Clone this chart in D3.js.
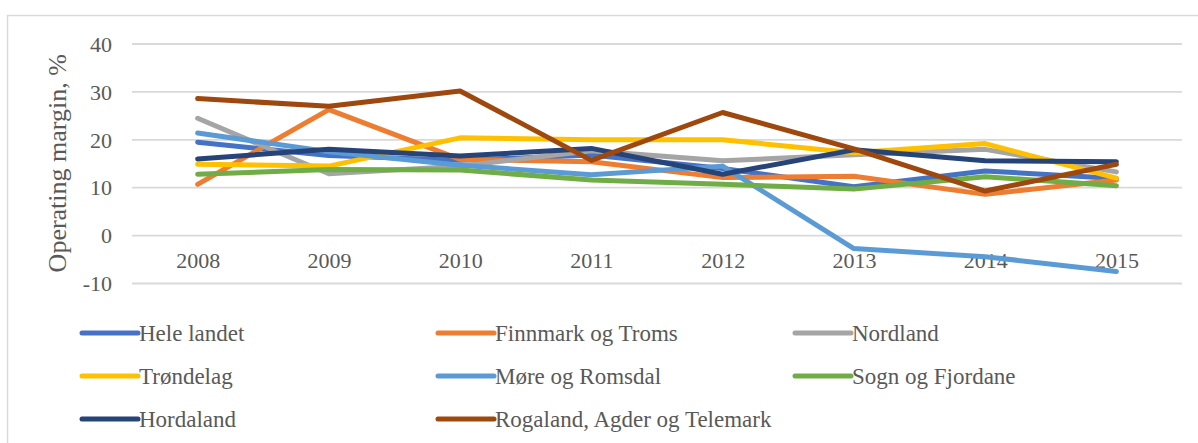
<!DOCTYPE html>
<html>
<head>
<meta charset="utf-8">
<script src="https://cdn.jsdelivr.net/npm/d3@7"></script>
<style>
  body { margin: 0; background: #fff; }
  text { font-family: "Liberation Serif", "Times New Roman", serif; fill: #595959; }
</style>
</head>
<body>
<div id="wrapper"></div>
<script>
// data
const years = ["2008", "2009", "2010", "2011", "2012", "2013", "2014", "2015"];
const seriesNames = ["Hele landet", "Finnmark og Troms", "Nordland", "Trøndelag",
  "Møre og Romsdal", "Sogn og Fjordane", "Hordaland", "Rogaland, Agder og Telemark"];
const heleLandet = [19.4, 16.6, 15.6, 16.7, 13.9, 10.1, 13.4, 11.8];
const finnmarkTroms = [10.6, 26.2, 15.8, 15.3, 12.0, 12.3, 8.5, 11.5];
const nordland = [24.4, 12.8, 14.4, 17.6, 15.5, 16.8, 17.9, 13.2];
const trondelag = [14.8, 14.4, 20.3, 19.9, 19.9, 17.2, 19.1, 11.9];
const moreRomsdal = [21.3, 17.4, 14.6, 12.6, 14.4, -2.8, -4.5, -7.6];
const sognFjordane = [12.7, 13.7, 13.6, 11.5, 10.6, 9.6, 12.2, 10.3];
const hordaland = [15.9, 17.9, 16.5, 18.1, 12.7, 17.8, 15.5, 15.3];
const rogaland = [28.5, 26.9, 30.1, 15.6, 25.6, 18.0, 9.2, 14.8];
const yTicks = [-10, 0, 10, 20, 30, 40];
const colors = ["#4472C4", "#ED7D31", "#A5A5A5", "#FFC000", "#5B9BD5", "#70AD47", "#264478", "#9E480E"];

const allValues = [heleLandet, finnmarkTroms, nordland, trondelag, moreRomsdal, sognFjordane, hordaland, rogaland];
const series = seriesNames.map((name, i) => ({ name: name, values: allValues[i], color: colors[i] }));

const width = 1198;
const height = 443;
const plot = { left: 132, right: 1182, top: 43.5, bottom: 283 };

const svg = d3.select("#wrapper")
  .append("svg")
  .attr("width", width)
  .attr("height", height);

// chart frame
svg.append("rect")
  .attr("x", 7.5)
  .attr("y", 15.5)
  .attr("width", width + 10)
  .attr("height", height + 10)
  .attr("fill", "none")
  .attr("stroke", "#d9d9d9")
  .attr("stroke-width", 1.5);

const xScale = d3.scalePoint()
  .domain(years)
  .range([plot.left, plot.right])
  .padding(0.5);

const yScale = d3.scaleLinear()
  .domain([-10, 40])
  .range([plot.bottom, plot.top]);

// gridlines + y labels
const yAxisGen = d3.axisLeft(yScale)
  .tickValues(yTicks)
  .tickSize(-(plot.right - plot.left))
  .tickPadding(20)
  .tickFormat(d => String(d));

const yAxis = svg.append("g")
  .attr("transform", `translate(${plot.left},0)`)
  .call(yAxisGen);
yAxis.select(".domain").remove();
yAxis.selectAll("line")
  .attr("stroke", "#d9d9d9")
  .attr("stroke-width", 1.8);
yAxis.selectAll("text")
  .attr("font-size", "22px")
  .attr("fill", "#595959")
  .attr("dy", "0.35em");

// x labels sit below the zero line
const xAxisGen = d3.axisBottom(xScale).tickSize(0).tickPadding(17);
const xAxis = svg.append("g")
  .attr("transform", `translate(0,${yScale(0)})`)
  .call(xAxisGen);
xAxis.select(".domain").remove();
xAxis.selectAll("text")
  .attr("font-size", "22px")
  .attr("fill", "#595959");

// y title
svg.append("text")
  .attr("transform", `translate(66,${(plot.top + plot.bottom) / 2}) rotate(-90)`)
  .attr("text-anchor", "middle")
  .attr("font-size", "26px")
  .text("Operating margin, %");

// lines
const lineGen = d3.line()
  .x((d, i) => xScale(years[i]))
  .y(d => yScale(d));

svg.append("g")
  .selectAll("path")
  .data(series)
  .join("path")
  .attr("d", d => lineGen(d.values))
  .attr("fill", "none")
  .attr("stroke", d => d.color)
  .attr("stroke-width", 5)
  .attr("stroke-linejoin", "round")
  .attr("stroke-linecap", "round");

// legend, 3 columns
const legendCols = [82, 438, 795];
const legendRows = [333, 376, 419];
const legend = svg.append("g")
  .selectAll("g")
  .data(series)
  .join("g")
  .attr("transform", (d, i) => `translate(${legendCols[i % 3]},${legendRows[Math.floor(i / 3)]})`);

legend.append("line")
  .attr("x1", 0)
  .attr("x2", 56)
  .attr("stroke", d => d.color)
  .attr("stroke-width", 5)
  .attr("stroke-linecap", "round");

legend.append("text")
  .attr("x", 57)
  .attr("y", 8)
  .attr("font-size", "23px")
  .text(d => d.name);
</script>
</body>
</html>
